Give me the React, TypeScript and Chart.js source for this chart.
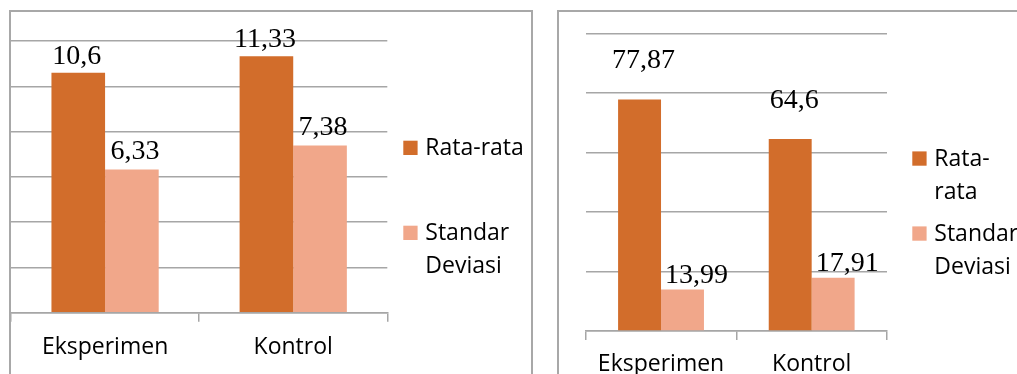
import React, { useEffect, useRef } from "react";
import { Chart, registerables } from "chart.js";

Chart.register(...registerables);

// ---- data ----
const categories = ["Eksperimen", "Kontrol"];
const seriesNames = ["Rata-rata", "Standar Deviasi"];

const leftMeans = [10.6, 11.33];
const leftStdDevs = [6.33, 7.38];
const leftTicks = [0, 2, 4, 6, 8, 10, 12];

const rightMeans = [77.87, 64.6];
const rightStdDevs = [13.99, 17.91];
const rightTicks = [0, 20, 40, 60, 80, 100];

// ---- styles ----
const COLOR_MEAN = "rgb(210,109,43)";
const COLOR_SD = "rgb(241,167,138)";
const GRID = "#a6a6a6";
const SANS = '"Open Sans", "Noto Sans", sans-serif';
const SERIF = '"Liberation Serif", "Times New Roman", serif';

const fmt = (v: number) => String(v).replace(".", ",");

function wrapText(ctx: CanvasRenderingContext2D, text: string, maxW: number): string[] {
  const tokens = text.match(/[^\s-]+-?\s*|\s+/g) || [text];
  const lines: string[] = [];
  let cur = "";
  for (const t of tokens) {
    const trial = cur + t;
    if (cur && ctx.measureText(trial.trim()).width > maxW) {
      lines.push(cur.trim());
      cur = t;
    } else {
      cur = trial;
    }
  }
  if (cur.trim()) lines.push(cur.trim());
  return lines;
}

type Cfg = {
  width: number;
  height: number;
  padLeft: number;
  padTop: number;
  padRight: number;
  axisBottom: number;
  tickPad: number;
  ticks: number[];
  legendX: number;
  legendBaselines: number[];
  wrapWidth: number;
  labelOffsets: { dx: number; dy: number }[];
};

function BarChart({ means, sds, cfg }: { means: number[]; sds: number[]; cfg: Cfg }) {
  const ref = useRef<HTMLCanvasElement | null>(null);
  useEffect(() => {
    if (!ref.current) return;
    const legendPlugin = {
      id: "customLegend",
      afterDraw(chart: any) {
        const ctx = chart.ctx as CanvasRenderingContext2D;
        ctx.save();
        ctx.font = `23px ${SANS}`;
        ctx.textBaseline = "alphabetic";
        ctx.textAlign = "left";
        chart.data.datasets.forEach((ds: any, i: number) => {
          const base = cfg.legendBaselines[i];
          const sq = 14.3;
          ctx.fillStyle = ds.backgroundColor;
          ctx.fillRect(cfg.legendX, base - sq, sq, sq);
          ctx.fillStyle = "#000";
          const lines = wrapText(ctx, ds.label, cfg.wrapWidth);
          lines.forEach((ln, j) => ctx.fillText(ln, cfg.legendX + 22, base + j * 33));
        });
        ctx.restore();
      },
    };
    const labelPlugin = {
      id: "valueLabels",
      afterDatasetsDraw(chart: any) {
        const ctx = chart.ctx as CanvasRenderingContext2D;
        ctx.save();
        ctx.font = `28px ${SERIF}`;
        ctx.fillStyle = "#000";
        ctx.textAlign = "center";
        ctx.textBaseline = "alphabetic";
        chart.data.datasets.forEach((ds: any, i: number) => {
          const meta = chart.getDatasetMeta(i);
          const off = cfg.labelOffsets[i];
          meta.data.forEach((bar: any, j: number) => {
            ctx.fillText(fmt(ds.data[j]), bar.x + off.dx, bar.y - off.dy);
          });
        });
        ctx.restore();
      },
    };
    const tickMax = cfg.ticks[cfg.ticks.length - 1];
    const tickStep = cfg.ticks[1] - cfg.ticks[0];
    const chart = new Chart(ref.current, {
      type: "bar",
      data: {
        labels: categories,
        datasets: [
          { label: seriesNames[0], data: means, backgroundColor: COLOR_MEAN, borderWidth: 0 },
          { label: seriesNames[1], data: sds, backgroundColor: COLOR_SD, borderWidth: 0 },
        ],
      },
      options: {
        responsive: false,
        maintainAspectRatio: false,
        devicePixelRatio: 1,
        animation: false,
        events: [],
        layout: {
          padding: { left: cfg.padLeft, top: cfg.padTop, right: cfg.padRight, bottom: 0 },
        },
        datasets: {
          bar: { categoryPercentage: 0.57, barPercentage: 1.0 },
        } as any,
        plugins: {
          legend: { display: false },
          tooltip: { enabled: false },
          title: { display: false },
        },
        scales: {
          x: {
            offset: true,
            grid: {
              offset: true,
              drawOnChartArea: false,
              drawTicks: true,
              tickLength: 9,
              color: GRID,
              lineWidth: 1.5,
            },
            border: { display: true, color: GRID, width: 1.5 },
            ticks: {
              color: "#000",
              font: { family: SANS, size: 23 },
              padding: cfg.tickPad,
              maxRotation: 0,
              autoSkip: false,
            },
            afterFit: (s: any) => {
              s.height = cfg.height - cfg.axisBottom;
            },
          },
          y: {
            min: 0,
            max: tickMax,
            ticks: { stepSize: tickStep, display: false },
            grid: { drawTicks: false, color: GRID, lineWidth: 1.5 },
            border: { display: false },
            afterFit: (s: any) => {
              s.width = 0;
            },
          },
        },
      },
      plugins: [labelPlugin, legendPlugin],
    });
    return () => chart.destroy();
  }, [means, sds, cfg]);
  return (
    <canvas
      ref={ref}
      width={cfg.width}
      height={cfg.height}
      style={{ display: "block", width: cfg.width, height: cfg.height }}
    />
  );
}

const leftCfg: Cfg = {
  width: 520,
  height: 420,
  padLeft: 0,
  padTop: 29,
  padRight: 520 - 376.3,
  axisBottom: 300.7,
  tickPad: 12,
  ticks: leftTicks,
  legendX: 392.3,
  legendBaselines: [143, 228],
  wrapWidth: 110,
  labelOffsets: [
    { dx: -1.5, dy: 9 },
    { dx: 3, dy: 10.8 },
  ],
};

const rightCfg: Cfg = {
  width: 480,
  height: 420,
  padLeft: 26.7,
  padTop: 21.7,
  padRight: 480 - 328,
  axisBottom: 319,
  tickPad: 11,
  ticks: rightTicks,
  legendX: 353.3,
  legendBaselines: [153.7, 228.7],
  wrapWidth: 85,
  labelOffsets: [
    { dx: 4, dy: 31 },
    { dx: 14, dy: 6.5 },
  ],
};

export default function App() {
  const boxBorder = "2px solid #a8a8a8";
  return (
    <>
      <style>{`html,body{margin:0;padding:0;overflow:hidden;background:#fff}`}</style>
      <div style={{ position: "relative", width: 1017, height: 374, overflow: "hidden", background: "#fff" }}>
        <div style={{ position: "absolute", left: 9, top: 10, width: 520, height: 420, border: boxBorder }}>
          <BarChart means={leftMeans} sds={leftStdDevs} cfg={leftCfg} />
        </div>
        <div style={{ position: "absolute", left: 557, top: 10, width: 480, height: 420, border: boxBorder }}>
          <BarChart means={rightMeans} sds={rightStdDevs} cfg={rightCfg} />
        </div>
      </div>
    </>
  );
}
